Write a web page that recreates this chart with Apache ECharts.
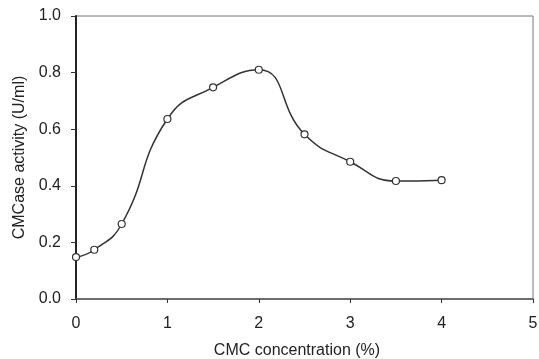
<!DOCTYPE html>
<html>
<head>
<meta charset="utf-8">
<script src="https://cdn.jsdelivr.net/npm/echarts@6/dist/echarts.min.js"></script>
<style>html,body{margin:0;padding:0;background:#fff}#c{width:539px;height:359px}</style>
</head>
<body>
<div id="c"></div>
<script>
const concentrations = [0, 0.2, 0.5, 1, 1.5, 2, 2.5, 3, 3.5, 4];
const activity = [0.148, 0.174, 0.265, 0.636, 0.748, 0.81, 0.582, 0.485, 0.417, 0.42];
const xTicks = [0, 1, 2, 3, 4, 5];
const yTicks = [0, 0.2, 0.4, 0.6, 0.8, 1.0];
const xTitle = 'CMC concentration (%)';
const yTitle = 'CMCase activity (U/ml)';

const chart = echarts.init(document.getElementById('c'), null, {renderer: 'canvas'});
const font = '"Liberation Sans", Arial, sans-serif';
chart.setOption({
  animation: false,
  grid: {left: 76, right: 6, top: 16, bottom: 60, show: true, borderColor: '#777', borderWidth: 1,
         containLabel: false, outerBoundsMode: 'none'},
  xAxis: {
    type: 'value', min: xTicks[0], max: xTicks[xTicks.length-1], interval: 1,
    name: xTitle, nameLocation: 'middle', nameGap: 44,
    nameTextStyle: {fontFamily: font, fontSize: 16, color: '#222', padding: [0, 15, 0, 0]},
    axisLine: {lineStyle: {color: '#555', width: 1.5}},
    axisTick: {show: true, length: 4, inside: false, lineStyle: {color: '#333'}},
    axisLabel: {fontFamily: font, fontSize: 16, color: '#222', margin: 17},
    splitLine: {show: false}
  },
  yAxis: {
    type: 'value', min: yTicks[0], max: yTicks[yTicks.length-1], interval: 0.2,
    name: yTitle, nameLocation: 'middle', nameGap: 47,
    nameTextStyle: {fontFamily: font, fontSize: 16, color: '#222'},
    axisLine: {show: true, lineStyle: {color: '#222', width: 2}},
    axisTick: {show: true, length: 5, lineStyle: {color: '#333'}},
    axisLabel: {fontFamily: font, fontSize: 16, color: '#222', margin: 15, formatter: v => v.toFixed(1)},
    splitLine: {show: false}
  },
  series: [{
    type: 'line',
    data: concentrations.map((x, i) => [x, activity[i]]),
    smooth: 0.5,
    symbol: 'circle', symbolSize: 7,
    itemStyle: {color: '#fff', borderColor: '#333', borderWidth: 1.2},
    lineStyle: {color: '#333', width: 1.5}
  }]
});
</script>
</body>
</html>
